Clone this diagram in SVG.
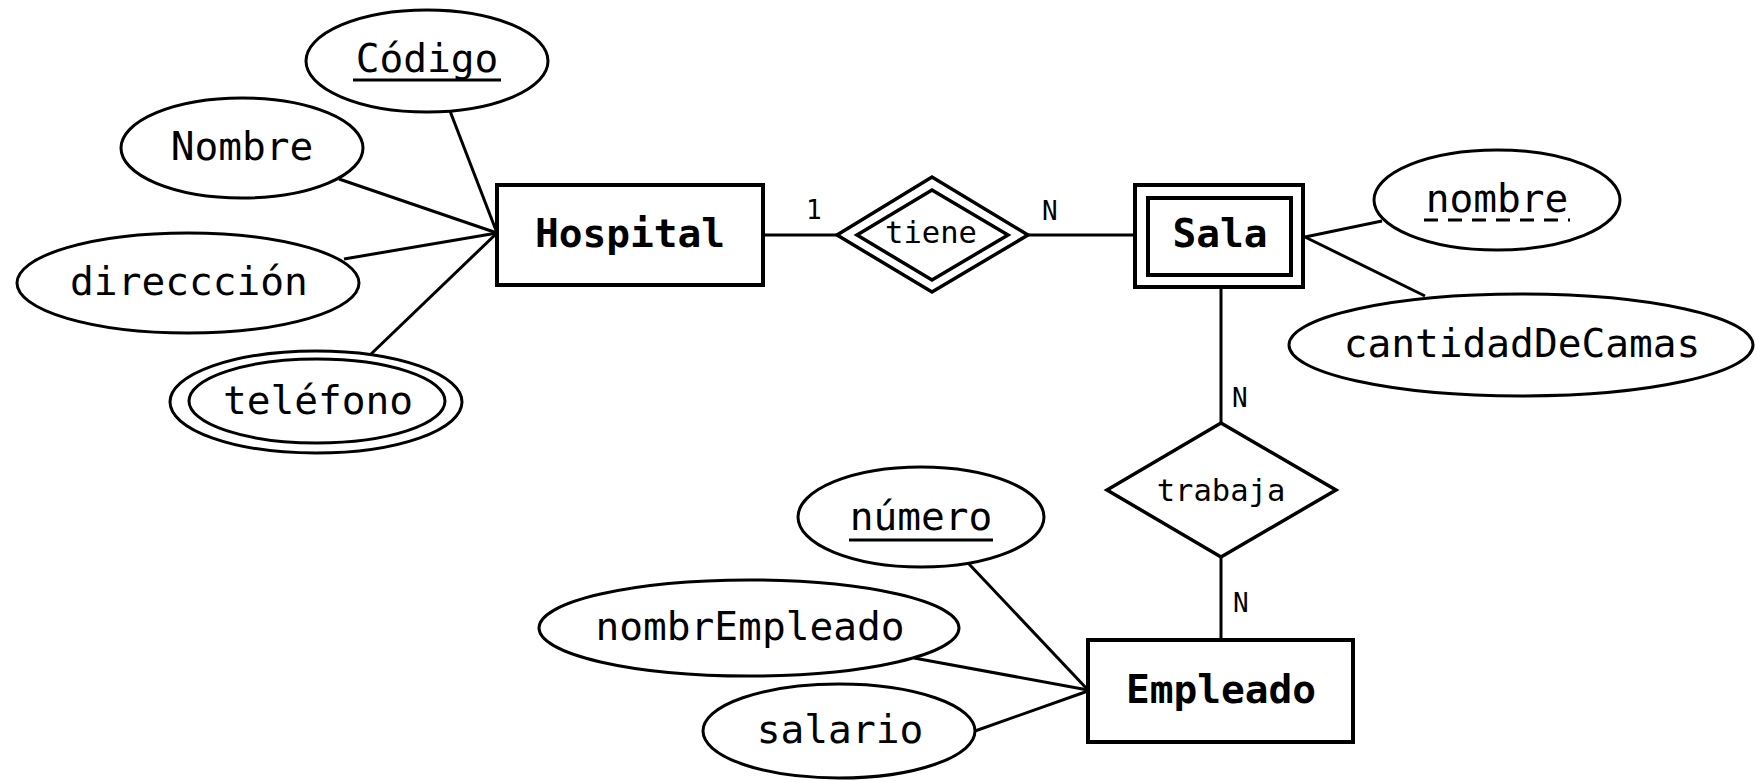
<svg xmlns="http://www.w3.org/2000/svg" width="1756" height="782" viewBox="0 0 1756 782">
<style>
  .bg { fill: #ffffff; }
  .ent { fill: #ffffff; stroke: #000; stroke-width: 4; }
  .attr { fill: #ffffff; stroke: #000; stroke-width: 3; }
  .rel { fill: #ffffff; stroke: #000; stroke-width: 3.5; stroke-linejoin: miter; }
  .conn line { stroke: #000; stroke-width: 3; }
  .t { font-family: "DejaVu Sans Mono", "Liberation Mono", monospace; font-size: 39.5px; fill: #000; text-anchor: middle; }
  .tb { font-family: "DejaVu Sans Mono", "Liberation Mono", monospace; font-size: 39.5px; font-weight: bold; fill: #000; text-anchor: middle; }
  .tr { font-family: "DejaVu Sans Mono", "Liberation Mono", monospace; font-size: 30.5px; fill: #000; text-anchor: middle; }
  .lab { font-family: "DejaVu Sans Mono", "Liberation Mono", monospace; font-size: 26px; fill: #000; }
  .ul { stroke: #000; stroke-width: 3; }
  .dul { stroke: #000; stroke-width: 3; stroke-dasharray: 14 10; }
</style>
<rect class="bg" x="0" y="0" width="1756" height="782"/>

<g id="connectors" class="conn">
  <line x1="450" y1="111" x2="497" y2="233"/>
  <line x1="339" y1="179" x2="497" y2="233"/>
  <line x1="344" y1="259" x2="497" y2="233"/>
  <line x1="370" y1="355" x2="497" y2="233"/>
  <line x1="763" y1="235" x2="837" y2="235"/>
  <line x1="1028" y1="235" x2="1135" y2="235"/>
  <line x1="1305" y1="237" x2="1382" y2="221"/>
  <line x1="1305" y1="237" x2="1425" y2="296"/>
  <line x1="1221" y1="287" x2="1221" y2="423"/>
  <line x1="1221" y1="557" x2="1221" y2="640"/>
  <line x1="969" y1="564" x2="1088" y2="690"/>
  <line x1="914" y1="658" x2="1088" y2="690"/>
  <line x1="975" y1="731" x2="1088" y2="691"/>
</g>

<g id="labels">
  <text class="lab" x="806" y="219">1</text>
  <text class="lab" x="1042" y="220">N</text>
  <text class="lab" x="1232" y="407">N</text>
  <text class="lab" x="1233" y="612">N</text>
</g>

<g id="Hospital">
  <rect class="ent" x="497" y="185" width="266" height="100"/>
  <text class="tb" x="630" y="247">Hospital</text>
</g>

<g id="Codigo">
  <ellipse class="attr" cx="427" cy="61" rx="121" ry="51"/>
  <text class="t" x="427" y="72">Código</text>
  <line class="ul" x1="353" y1="80" x2="501" y2="80"/>
</g>

<g id="Nombre">
  <ellipse class="attr" cx="242" cy="148" rx="121" ry="50"/>
  <text class="t" x="242" y="160">Nombre</text>
</g>

<g id="direccion">
  <ellipse class="attr" cx="188" cy="283" rx="171" ry="50"/>
  <text class="t" x="189" y="295">direccción</text>
</g>

<g id="telefono">
  <ellipse class="attr" cx="316" cy="402" rx="146" ry="51"/>
  <ellipse class="attr" cx="317" cy="401" rx="128" ry="42"/>
  <text class="t" x="318" y="414">teléfono</text>
</g>

<g id="tiene">
  <polygon class="rel" points="837,235 932,177 1028,235 932,292"/>
  <polygon class="rel" points="857,235 932,190 1008,235 932,280"/>
  <text class="tr" x="931" y="243">tiene</text>
</g>

<g id="Sala">
  <rect class="ent" x="1135" y="185" width="168" height="102"/>
  <rect class="ent" x="1148" y="198" width="143" height="77"/>
  <text class="tb" x="1220" y="247">Sala</text>
</g>

<g id="nombre">
  <ellipse class="attr" cx="1497" cy="200" rx="123" ry="50"/>
  <text class="t" x="1497" y="212">nombre</text>
  <line class="dul" x1="1424" y1="220" x2="1570" y2="220"/>
</g>

<g id="cantidadDeCamas">
  <ellipse class="attr" cx="1521" cy="345" rx="232" ry="51"/>
  <text class="t" x="1522" y="357">cantidadDeCamas</text>
</g>

<g id="trabaja">
  <polygon class="rel" points="1107,490 1221,423 1336,490 1221,557"/>
  <text class="tr" x="1221" y="501">trabaja</text>
</g>

<g id="Empleado">
  <rect class="ent" x="1088" y="640" width="265" height="102"/>
  <text class="tb" x="1221" y="703">Empleado</text>
</g>

<g id="numero">
  <ellipse class="attr" cx="921" cy="517" rx="123" ry="50"/>
  <text class="t" x="921" y="530">número</text>
  <line class="ul" x1="849" y1="540" x2="993" y2="540"/>
</g>

<g id="nombrEmpleado">
  <ellipse class="attr" cx="749" cy="628" rx="210" ry="48"/>
  <text class="t" x="750" y="640">nombrEmpleado</text>
</g>

<g id="salario">
  <ellipse class="attr" cx="839" cy="731" rx="136" ry="47"/>
  <text class="t" x="840" y="743">salario</text>
</g>
</svg>
